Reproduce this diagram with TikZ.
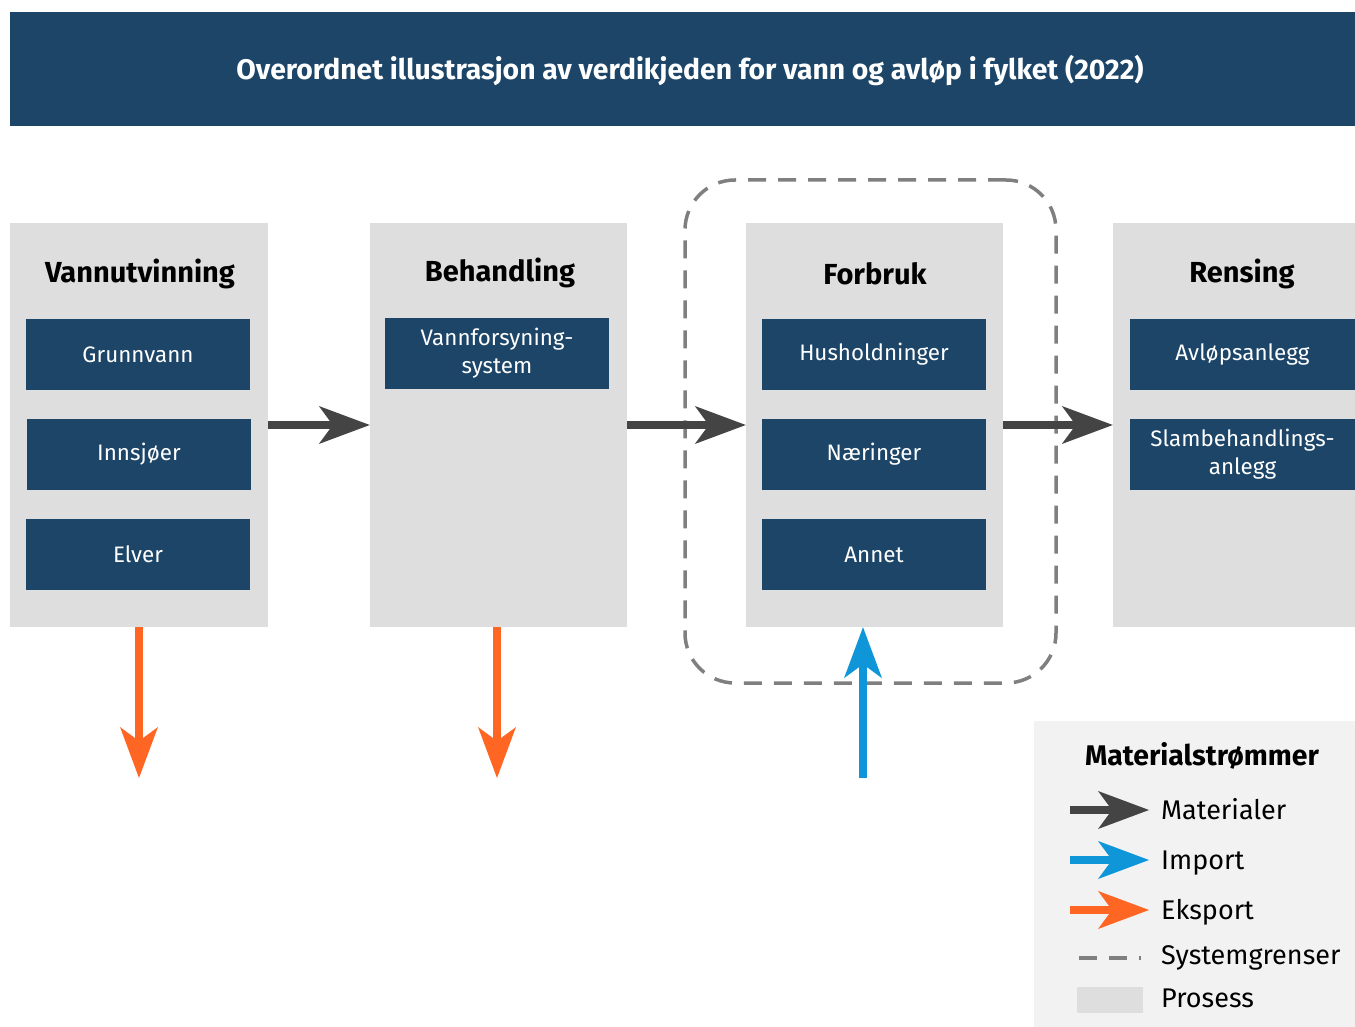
\documentclass[tikz,border=0pt]{standalone}
\usepackage{fontspec}
\setmainfont{Fira Sans}
\usetikzlibrary{arrows.meta}
\definecolor{tittelblaa}{RGB}{28,69,104}
\definecolor{prosessgraa}{RGB}{222,222,222}
\definecolor{pilgraa}{RGB}{68,68,68}
\definecolor{importblaa}{RGB}{14,150,216}
\definecolor{eksportoransje}{RGB}{255,102,36}
\definecolor{grensegraa}{RGB}{127,127,127}
\definecolor{legendebg}{RGB}{242,242,242}
\begin{document}
\begin{tikzpicture}[x=1pt,y=-1pt,
  prosess/.style={fill=prosessgraa,minimum width=257pt,minimum height=404pt,inner sep=0pt},
  overskrift/.style={font=\fontsize{29}{33}\selectfont\bfseries,inner sep=0pt},
  delboks/.style={fill=tittelblaa,text=white,minimum width=224pt,minimum height=71pt,inner sep=0pt,align=center,font=\fontsize{22.4}{28}\selectfont},
  strom/.style={line width=8pt,-{Stealth[length=51pt,width=38pt,inset=14pt,line width=0pt]}},
  legtekst/.style={anchor=base west,inner sep=0pt,font=\fontsize{27}{31}\selectfont}]
\useasboundingbox (0,0) rectangle (1355,1027);
% tittel
\node[fill=tittelblaa,minimum width=1345pt,minimum height=114pt,inner sep=0pt] (tittel) at (682.5,69) {};
\node[text=white,font=\fontsize{28.3}{32}\selectfont\bfseries,inner sep=0pt] (tittxt) at (690,70) {Overordnet illustrasjon av verdikjeden for vann og avløp i fylket (2022)};
% systemgrense
\node[draw=grensegraa,line width=3.5pt,dash pattern=on 18pt off 12pt,rounded corners=50pt,minimum width=371pt,minimum height=503pt,inner sep=0pt] (grense) at (870.5,431.5) {};
% prosesser
\node[prosess,minimum width=258pt] (vann) at (139,425) {};
\node[prosess] (beh) at (498.5,425) {};
\node[prosess] (forbruk) at (874.5,425) {};
\node[prosess,minimum width=242pt] (rens) at (1234,425) {};
\node[overskrift] (vanntit) at (140,274) {Vannutvinning};
\node[overskrift] (behtit) at (500,273) {Behandling};
\node[overskrift] (forbtit) at (875,274) {Forbruk};
\node[overskrift] (renstit) at (1242,274) {Rensing};
\node[delboks] (grunn) at (138,354.5) {Grunnvann};
\node[delboks] (innsj) at (139,454.5) {Innsjøer};
\node[delboks] (elver) at (138,554.5) {Elver};
\node[delboks] (vforsyn) at (497,353.5) {Vannforsyning-\\system};
\node[delboks] (hush) at (874,354.5) {Husholdninger};
\node[delboks] (naer) at (874,454.5) {Næringer};
\node[delboks] (annet) at (874,554.5) {Annet};
\node[delboks,minimum width=225pt] (avlop) at (1242.5,354.5) {Avløpsanlegg};
\node[delboks,minimum width=225pt] (slam) at (1242.5,454.5) {Slambehandlings-\\anlegg};
% strommer
\coordinate (eks1) at (139,778);
\coordinate (eks2) at (497,778);
\coordinate (imp) at (863,778);
\draw[strom,pilgraa] (vann.east) -- (beh.west);
\draw[strom,pilgraa] (beh.east) -- (forbruk.west);
\draw[strom,pilgraa] (forbruk.east) -- (rens.west);
\draw[strom,eksportoransje] (eks1 |- vann.south) -- (eks1);
\draw[strom,eksportoransje] (eks2 |- beh.south) -- (eks2);
\draw[strom,importblaa] (imp) -- (imp |- forbruk.south);
% legende
\node[fill=legendebg,minimum width=321pt,minimum height=306pt,inner sep=0pt] (legende) at (1194.5,874) {};
\node[overskrift,font=\fontsize{28.4}{32}\selectfont\bfseries] (legtit) at (1202,756) {Materialstrømmer};
\coordinate (l1a) at (1070,810); \coordinate (l1b) at (1149,810);
\coordinate (l2a) at (1070,860); \coordinate (l2b) at (1149,860);
\coordinate (l3a) at (1070,910); \coordinate (l3b) at (1149,910);
\coordinate (l4a) at (1079,958); \coordinate (l4b) at (1141,958);
\draw[strom,pilgraa] (l1a) -- (l1b);
\draw[strom,importblaa] (l2a) -- (l2b);
\draw[strom,eksportoransje] (l3a) -- (l3b);
\draw[grensegraa,line width=3.5pt,dash pattern=on 18pt off 12pt] (l4a) -- (l4b);
\node[fill=prosessgraa,minimum width=66pt,minimum height=26pt,inner sep=0pt] (l5) at (1110,1000) {};
\node[legtekst] (t1) at (1161,819) {Materialer};
\node[legtekst] (t2) at (1161,869) {Import};
\node[legtekst] (t3) at (1161,919) {Eksport};
\node[legtekst] (t4) at (1161,964) {Systemgrenser};
\node[legtekst] (t5) at (1161,1007) {Prosess};
\end{tikzpicture}
\end{document}
